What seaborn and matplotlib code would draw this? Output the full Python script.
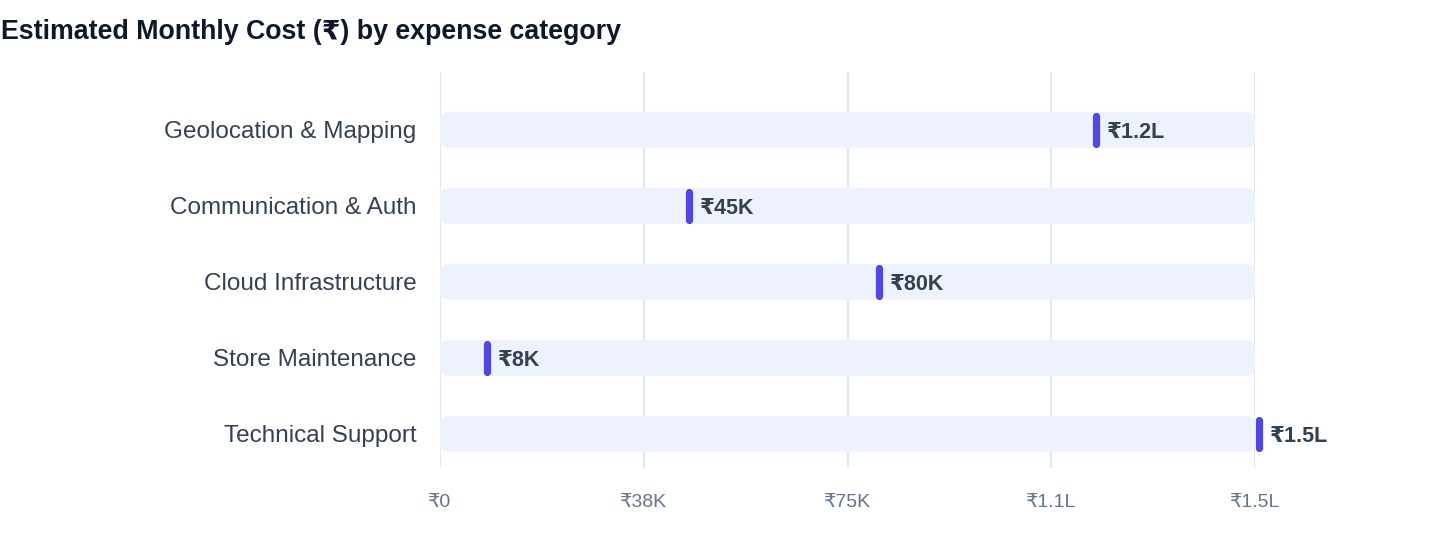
import numpy as np
import pandas as pd
import matplotlib
matplotlib.use("Agg")
import matplotlib.pyplot as plt
from matplotlib.patches import FancyBboxPatch
from matplotlib.transforms import ScaledTranslation
import seaborn as sns

# Data
categories = ["Geolocation & Mapping", "Communication & Auth", "Cloud Infrastructure",
              "Store Maintenance", "Technical Support"]
costs = [120000, 45000, 80000, 8000, 150000]
axis_max = 150000
tick_values = [0, 37500, 75000, 112500, 150000]

df = pd.DataFrame({"category": categories, "cost": costs, "track": [axis_max] * len(categories)})

sns.set_theme(style="white")
plt.rcParams["font.family"] = ["Liberation Sans", "DejaVu Sans"]


def fmt_inr(v):
    if v >= 100000:
        return f"₹{v / 100000:.1f}L"
    if v >= 1000:
        return f"₹{v / 1000:.0f}K"
    return f"₹{v:.0f}"


fig = plt.figure(figsize=(14.4, 5.6), dpi=100)
ax = fig.add_axes([440 / 1440, 1 - 468 / 560, 815 / 1440, 396 / 560])

# background track bars
sns.barplot(data=df, x="track", y="category", color="#EEF2FF", saturation=1,
            width=0.47, ax=ax, zorder=1)

# replace rectangles with rounded ones
px_x = axis_max / 815.0
px_y = 1 / 76.0
for p in list(ax.patches):
    x0, y0 = p.get_x(), p.get_y()
    w, h = p.get_width(), p.get_height()
    p.remove()
    r = 8 * px_x
    rb = FancyBboxPatch((x0 + r, y0 + 8 * px_y), w - 2 * r, h - 16 * px_y,
                        boxstyle=f"round,pad={r},rounding_size={r}",
                        mutation_aspect=px_y / px_x,
                        facecolor="#EEF2FF", edgecolor="none", zorder=1)
    ax.add_patch(rb)

# value markers (rounded pill), nudged so the pill's left edge sits on the value
sns.scatterplot(data=df, x="cost", y="category", marker="|", s=420,
                linewidth=5.2, color="#4F46E5", edgecolor="#4F46E5", ax=ax, zorder=3,
                legend=False)
pills = ax.collections[-1]
pills.set_capstyle("round")
pills.set_clip_on(False)
pills.set_offset_transform(ax.transData + ScaledTranslation(4 / 100, 0, fig.dpi_scale_trans))

for i, v in enumerate(costs):
    ax.text(v + 15 * px_x, i, fmt_inr(v), va="center_baseline", ha="left",
            fontsize=15.5, fontweight="bold", color="#334155", zorder=4)

ax.set_xlim(0, axis_max)
ax.set_ylim(4.45, -0.76)
ax.set_xticks(tick_values)
ax.set_xticklabels([fmt_inr(t) for t in tick_values])
ax.set_xlabel("")
ax.set_ylabel("")

ax.grid(True, axis="x", color="#E2E8F0", linewidth=1.5)
ax.grid(False, axis="y")
ax.set_axisbelow(True)
for s in ax.spines.values():
    s.set_visible(False)

ax.tick_params(axis="x", length=0, pad=19, labelsize=14, labelcolor="#64748B")
ax.tick_params(axis="y", length=0, pad=17, labelsize=17.5, labelcolor="#334155")

fig.text(0.001, 1 - 32 / 560, "Estimated Monthly Cost (₹) by expense category",
         fontsize=19.3, fontweight="bold", color="#0F172A", ha="left", va="center")

fig.savefig("out.png", dpi=100)
